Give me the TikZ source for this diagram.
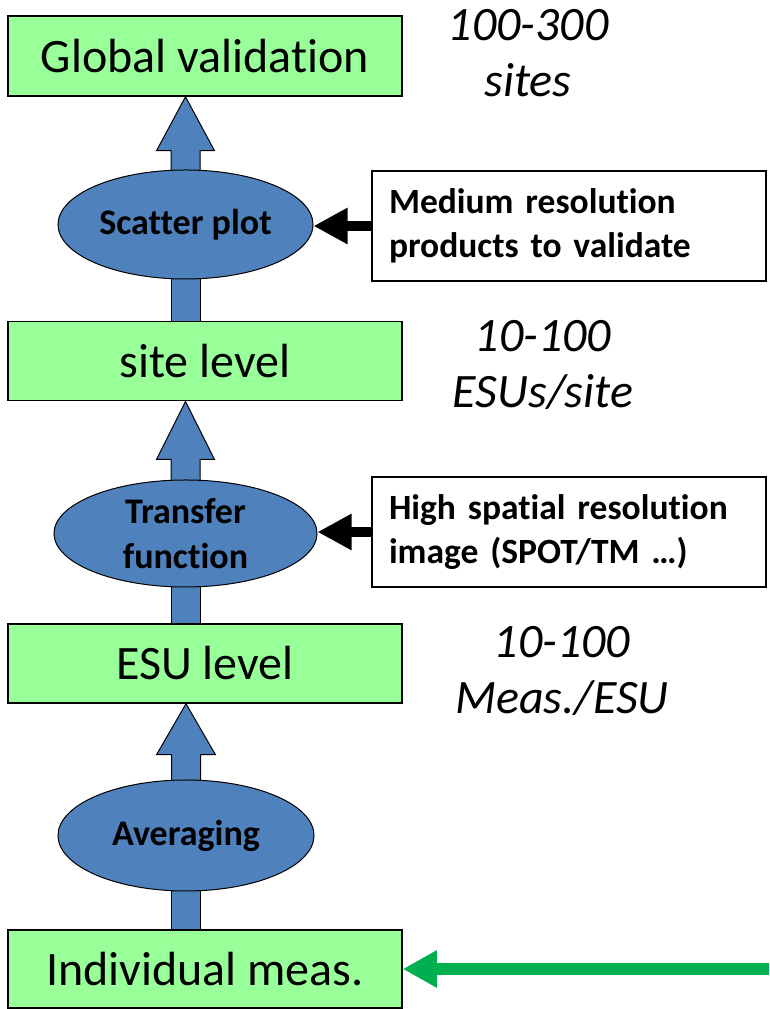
\documentclass[tikz,border=0pt]{standalone}
\usepackage{fontspec}
\setmainfont{Carlito}[Ligatures=NoCommon]
\usetikzlibrary{shapes.geometric,arrows.meta,calc}
\pgfdeclarelayer{background}
\pgfsetlayers{background,main}
\definecolor{boxgreen}{HTML}{99FF99}
\definecolor{ellblue}{HTML}{4F81BD}
\definecolor{arrgreen}{HTML}{00B050}
\tikzset{
  levelbox/.style={draw=black, line width=1.5pt, fill=boxgreen, minimum width=394pt, inner sep=0pt,
    font=\fontsize{48}{56}\selectfont},
  procell/.style={ellipse, draw=black, line width=1pt, fill=ellblue, inner sep=0pt, align=center,
    font=\fontsize{36}{45}\selectfont\bfseries},
  inputbox/.style={draw=black, line width=1.5pt, fill=white, minimum width=394pt, minimum height=110pt,
    text width=360pt, inner xsep=17pt, inner ysep=0pt, align=left,
    font=\fontsize{35.5}{44}\selectfont\bfseries},
  countlabel/.style={align=center, inner sep=0pt, font=\fontsize{48}{56}\selectfont\itshape},
  bluearrow/.style={draw=black, line width=1pt, fill=ellblue, line join=miter},
  blackarrow/.style={draw=black, line width=10pt, -{Triangle[length=34pt,width=34pt]}},
  greenarrow/.style={draw=arrgreen, line width=12pt, -{Triangle[length=34pt,width=35pt]}}
}
\begin{document}
\begin{tikzpicture}[x=1pt,y=1pt]
\useasboundingbox (0,0) rectangle (769,1009);
% level boxes
\node[levelbox, minimum height=80pt] (global) at (205,953) {Global validation};
\node[levelbox, minimum height=79pt] (site) at (205,647.8) {site level};
\node[levelbox, minimum height=79pt] (esu) at (205,345.5) {ESU level};
\node[levelbox, minimum height=78pt] (indiv) at (205,40) {Individual meas.};
% process ellipses
\node[procell, minimum width=255pt, minimum height=109pt] (scatter) at (185.5,784.5) {Scatter plot};
\node[procell, minimum width=263pt, minimum height=107pt] (transfer) at (185.5,475.5) {Transfer\\function};
\node[procell, minimum width=256pt, minimum height=111pt] (averaging) at (186,173.5) {Averaging};
% input boxes
\node[inputbox] (medium) at (569,783) {Medium resolution\\products to validate};
\node[inputbox] (high) at (569,477) {High spatial resolution\\image (SPOT/TM …)};
% count labels
\node[countlabel] (lab1) at (528,955.5) {100-300\\sites};
\node[countlabel] (lab2) at (543,644) {10-100\\ESUs/site};
\node[countlabel] (lab3) at (562,338) {10-100\\Meas./ESU};
% block arrows (behind)
\begin{pgfonlayer}{background}
\draw[bluearrow] let \p1=(scatter.center), \p2=(global.south) in
  (\x1-14.5pt,\y1) -- (\x1-14.5pt,\y2-54pt) -- (\x1-29pt,\y2-54pt) -- (\x1,\y2)
  -- (\x1+29pt,\y2-54pt) -- (\x1+14.5pt,\y2-54pt) -- (\x1+14.5pt,\y1) -- cycle;
\draw[bluearrow] let \p1=(scatter.center), \p2=(site.center) in
  (\x1-14.5pt,\y1) rectangle (\x1+14.5pt,\y2);
\draw[bluearrow] let \p1=(transfer.center), \p2=(site.south) in
  (\x1-14.5pt,\y1) -- (\x1-14.5pt,\y2-58pt) -- (\x1-29pt,\y2-58pt) -- (\x1,\y2)
  -- (\x1+29pt,\y2-58pt) -- (\x1+14.5pt,\y2-58pt) -- (\x1+14.5pt,\y1) -- cycle;
\draw[bluearrow] let \p1=(transfer.center), \p2=(esu.center) in
  (\x1-14.5pt,\y1) rectangle (\x1+14.5pt,\y2);
\draw[bluearrow] let \p1=(averaging.center), \p2=(esu.south) in
  (\x1-14.5pt,\y1) -- (\x1-14.5pt,\y2-51pt) -- (\x1-29.5pt,\y2-51pt) -- (\x1,\y2)
  -- (\x1+29.5pt,\y2-51pt) -- (\x1+14.5pt,\y2-51pt) -- (\x1+14.5pt,\y1) -- cycle;
\draw[bluearrow] let \p1=(averaging.center), \p2=(indiv.center) in
  (\x1-14.5pt,\y1) rectangle (\x1+14.5pt,\y2);
\end{pgfonlayer}
% input arrows
\draw[blackarrow] (medium.west) -- (scatter.east |- medium.west);
\draw[blackarrow] (high.west) -- (transfer.east |- high.west);
\coordinate (gstart) at (769,40);
\draw[greenarrow] (gstart) -- (indiv.east);
\end{tikzpicture}
\end{document}
